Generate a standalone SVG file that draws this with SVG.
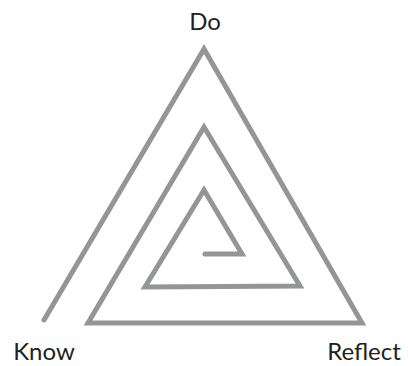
<svg xmlns="http://www.w3.org/2000/svg" width="408" height="366" viewBox="0 0 408 366">
<style>
.sp{fill:none;stroke:#939598;stroke-width:5;stroke-linecap:round;stroke-linejoin:miter}
.lb{font-family:Lato,"Open Sans",sans-serif;font-size:24px;fill:#231f20}
</style>
<rect width="408" height="366" fill="#fff"/>
<g id="connectors">
<path class="sp" d="M44,320 L204,49 L362,323 L88,323 L204,127 L300,286 L145,287 L204,190 L242,254 L205,254"/>
</g>
<g id="do"><text class="lb" x="205" y="30" text-anchor="middle">Do</text></g>
<g id="know"><text class="lb" x="44" y="360" text-anchor="middle">Know</text></g>
<g id="reflect"><text class="lb" x="364" y="360" text-anchor="middle">Reflect</text></g>
</svg>
